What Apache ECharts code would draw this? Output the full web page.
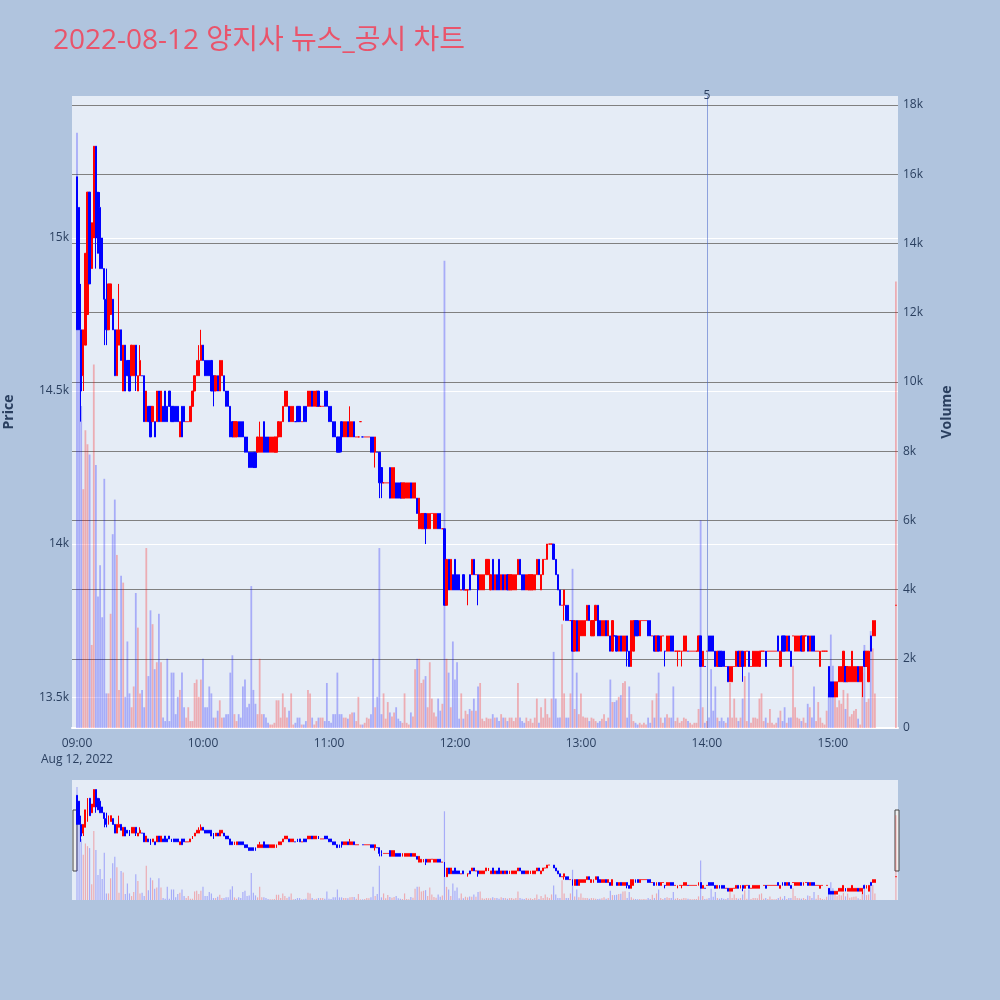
<!DOCTYPE html>
<html><head><meta charset="utf-8">
<script src="https://cdn.jsdelivr.net/npm/echarts@6/dist/echarts.min.js"></script>
<style>html,body{margin:0;padding:0;background:#B0C4DE}#c{width:1000px;height:1000px}</style>
</head><body><div id="c"></div>
<script>
const chartTitle = '2022-08-12 양지사 뉴스_공시 차트';
const dateLabel = 'Aug 12, 2022';
const timeTicks = [0, 60, 120, 180, 240, 300, 360];   // minutes after 09:00
const priceTicks = [13500, 14000, 14500, 15000];
const newsMinute = 300;   // 14:00
const newsLabel = '5';

// one entry per minute from 09:00 (index 0) to 15:30 (index 390)
const opens = [
15200,15100,14700,14550,14650,14750,15150,14900,15000,15300,
15150,15100,15000,14900,14800,14700,14750,14800,14700,14550,
14650,14700,14500,14650,14600,14600,14550,14550,14650,14500,
14550,14550,14550,14400,14450,14450,14400,14400,14400,14500,
14400,14450,14500,14450,14500,14450,14450,14450,14450,14350,
14450,14450,14400,14400,14400,14450,14500,14550,14550,14600,
14650,14600,14600,14600,14600,14550,14500,14550,14500,14550,
14550,14500,14500,14450,14400,14350,14350,14400,14400,14400,
14350,14350,14300,14300,14300,14300,14300,14300,14300,14400,
14350,14350,14300,14300,14300,14300,14350,14350,14400,14450,
14450,14450,14400,14400,14400,14450,14450,14400,14450,14450,
14450,14450,14500,14450,14450,14500,14450,14450,14500,14500,
14450,14450,14400,14400,14350,14350,14400,14350,14350,14400,
14350,14350,14400,14350,14350,14400,14350,14350,14350,14350,
14350,14350,14300,14300,14300,14250,14200,14200,14200,14250,
14150,14150,14200,14200,14200,14150,14150,14150,14150,14200,
14150,14150,14150,14050,14050,14050,14100,14050,14050,14100,
14050,14050,14100,14100,14050,14050,13800,13950,13850,13900,
13950,13900,13900,13850,13900,13850,13850,13900,13900,13950,
13900,13900,13850,13850,13850,13900,13900,13850,13950,13850,
13900,13950,13850,13900,13850,13900,13850,13850,13850,13850,
13900,13950,13900,13900,13850,13850,13850,13850,13850,13900,
13950,13850,13900,13950,13950,14000,14000,14000,13950,13900,
13850,13800,13800,13800,13800,13750,13750,13650,13750,13650,
13700,13700,13700,13750,13800,13700,13700,13750,13800,13750,
13700,13700,13750,13700,13700,13650,13700,13700,13650,13700,
13650,13650,13700,13650,13600,13650,13750,13750,13700,13750,
13750,13750,13750,13750,13700,13700,13650,13700,13650,13700,
13650,13650,13650,13700,13700,13650,13650,13650,13650,13650,
13650,13650,13650,13650,13650,13650,13650,13700,13600,13600,
13650,13700,13700,13700,13650,13600,13650,13650,13650,13600,
13600,13550,13550,13600,13600,13650,13600,13650,13600,13650,
13650,13600,13600,13600,13600,13600,13650,13650,13650,13650,
13650,13650,13650,13650,13700,13600,13700,13700,13650,13700,
13650,13700,13650,13650,13650,13700,13650,13700,13700,13650,
13700,13700,13650,13650,13600,13650,13650,13650,13600,13550,
13550,13500,13500,13550,13550,13550,13600,13550,13550,13550,
13550,13550,13600,13550,13550,13650,13600,13550,13700,13700,
13700,null,null,null,null,null,null,null,null,null,
13800];

const closes = [
14700,14700,14500,14700,14950,15150,14850,15050,15300,15000,
14950,14900,14900,14800,14700,14850,14850,14700,14550,14700,
14700,14600,14650,14500,14550,14500,14650,14650,14550,14550,
14600,14550,14400,14500,14400,14350,14450,14350,14500,14400,
14500,14400,14400,14400,14450,14400,14400,14400,14400,14400,
14350,14400,14400,14400,14450,14500,14550,14600,14600,14650,
14600,14550,14550,14550,14500,14500,14550,14500,14600,14600,
14500,14450,14450,14350,14350,14400,14400,14350,14350,14350,
14300,14300,14250,14250,14250,14250,14350,14350,14350,14300,
14300,14300,14350,14350,14350,14350,14400,14400,14450,14500,
14500,14400,14450,14450,14400,14400,14400,14400,14400,14400,
14500,14500,14450,14500,14500,14450,14450,14450,14450,14450,
14400,14400,14350,14350,14300,14300,14350,14400,14400,14350,
14400,14400,14350,14350,14350,14400,14350,14350,14350,14350,
14300,14300,14350,14300,14200,14200,14200,14200,14200,14150,
14250,14250,14150,14150,14150,14200,14200,14200,14200,14150,
14200,14200,14100,14150,14100,14100,14050,14100,14100,14100,
14100,14100,14050,14050,14050,13800,13950,13850,13950,13850,
13850,13850,13850,13850,13850,13850,13850,13850,13950,13900,
13900,13850,13900,13900,13900,13950,13950,13900,13850,13900,
13850,13850,13900,13850,13900,13850,13900,13900,13900,13900,
13950,13900,13850,13850,13900,13900,13900,13900,13900,13950,
13900,13900,13950,13950,14000,14000,14000,13950,13900,13850,
13800,13800,13850,13750,13750,13750,13650,13750,13650,13750,
13750,13750,13750,13800,13750,13750,13750,13800,13700,13700,
13750,13750,13700,13750,13650,13750,13700,13650,13700,13650,
13700,13700,13650,13600,13750,13750,13700,13700,13750,13750,
13750,13750,13700,13700,13700,13650,13700,13650,13700,13700,
13650,13700,13700,13650,13650,13650,13650,13650,13650,13700,
13700,13650,13650,13650,13650,13650,13700,13600,13650,13600,
13650,13650,13650,13650,13600,13650,13600,13600,13600,13600,
13550,13600,13600,13600,13650,13600,13650,13600,13650,13650,
13600,13600,13650,13650,13650,13650,13650,13650,13600,13650,
13650,13650,13650,13650,13650,13650,13650,13650,13700,13650,
13600,13700,13700,13700,13700,13650,13700,13700,13650,13700,
13650,13650,13650,13650,13650,13650,13650,13650,13500,13500,
13500,13550,13550,13600,13600,13650,13550,13600,13600,13650,
13600,13600,13550,13600,13600,13600,13650,13650,13650,13750,
13750,null,null,null,null,null,null,null,null,null,
13800];

const highs = [
15200,15100,14850,14700,14950,15150,15150,15050,15300,15300,
15150,15150,15000,14900,14900,14850,14850,14800,14700,14700,
14850,14700,14650,14650,14600,14600,14650,14650,14650,14550,
14650,14550,14550,14500,14450,14450,14450,14400,14500,14500,
14500,14450,14500,14450,14500,14450,14450,14450,14450,14400,
14450,14450,14400,14400,14450,14500,14550,14600,14650,14700,
14650,14600,14600,14600,14600,14550,14550,14550,14600,14600,
14550,14500,14500,14450,14400,14400,14400,14400,14400,14400,
14350,14350,14300,14300,14300,14300,14350,14400,14350,14400,
14350,14350,14350,14350,14350,14350,14400,14400,14450,14500,
14500,14450,14450,14450,14400,14450,14450,14400,14450,14450,
14500,14500,14500,14500,14500,14500,14450,14450,14500,14500,
14450,14450,14400,14400,14350,14350,14400,14400,14400,14400,
14450,14400,14400,14350,14350,14400,14350,14350,14350,14350,
14350,14350,14350,14300,14300,14250,14200,14200,14200,14250,
14250,14250,14200,14200,14200,14200,14200,14200,14200,14200,
14200,14200,14150,14150,14100,14100,14100,14100,14100,14100,
14100,14100,14100,14100,14050,14050,13950,13950,13950,13900,
13950,13900,13900,13850,13900,13850,13850,13900,13950,13950,
13900,13900,13900,13900,13900,13950,13950,13900,13950,13900,
13900,13950,13900,13900,13900,13900,13900,13900,13900,13900,
13950,13950,13900,13900,13900,13900,13900,13900,13900,13950,
13950,13900,13950,13950,14000,14000,14000,14000,13950,13900,
13850,13800,13850,13800,13800,13750,13750,13750,13750,13750,
13750,13750,13750,13800,13800,13750,13750,13800,13800,13750,
13750,13750,13750,13750,13700,13750,13700,13700,13700,13700,
13700,13700,13700,13650,13750,13750,13750,13750,13750,13750,
13750,13750,13750,13750,13700,13700,13700,13700,13700,13700,
13650,13700,13700,13700,13700,13650,13650,13650,13650,13700,
13700,13650,13650,13650,13650,13650,13700,13700,13650,13600,
13650,13700,13700,13700,13650,13650,13650,13650,13650,13600,
13600,13600,13600,13600,13650,13650,13650,13650,13650,13650,
13650,13600,13650,13650,13650,13650,13650,13650,13650,13650,
13650,13650,13650,13650,13700,13650,13700,13700,13700,13700,
13650,13700,13700,13700,13700,13700,13700,13700,13700,13700,
13700,13700,13650,13650,13650,13650,13650,13650,13600,13550,
13550,13550,13550,13600,13600,13650,13600,13600,13600,13650,
13600,13600,13600,13600,13600,13650,13650,13650,13700,13750,
13750,null,null,null,null,null,null,null,null,null,
13800];

const lows = [
14700,14700,14400,14500,14650,14750,14850,14900,15000,14900,
14950,14900,14900,14650,14650,14700,14750,14700,14550,14550,
14650,14600,14500,14500,14550,14500,14550,14550,14500,14500,
14550,14550,14400,14400,14400,14350,14400,14350,14400,14400,
14400,14400,14400,14400,14450,14400,14400,14400,14400,14350,
14350,14400,14400,14400,14400,14450,14500,14550,14550,14600,
14600,14550,14550,14550,14500,14450,14500,14500,14500,14550,
14500,14450,14450,14350,14350,14350,14350,14350,14350,14350,
14300,14300,14250,14250,14250,14250,14300,14300,14300,14300,
14300,14300,14300,14300,14300,14300,14350,14350,14400,14450,
14450,14400,14400,14400,14400,14400,14400,14400,14400,14400,
14450,14450,14450,14450,14450,14450,14450,14450,14450,14450,
14400,14400,14350,14350,14300,14300,14300,14350,14350,14350,
14350,14350,14350,14350,14350,14400,14350,14350,14350,14350,
14300,14300,14250,14300,14150,14150,14200,14200,14200,14150,
14150,14150,14150,14150,14150,14150,14150,14150,14150,14150,
14150,14150,14100,14050,14050,14050,14000,14050,14050,14100,
14050,14050,14050,14050,14050,13800,13800,13850,13850,13850,
13850,13850,13850,13850,13850,13850,13800,13850,13900,13900,
13900,13800,13850,13850,13850,13900,13900,13850,13850,13850,
13850,13850,13850,13850,13850,13850,13850,13850,13850,13850,
13900,13900,13850,13850,13850,13850,13850,13850,13850,13900,
13900,13850,13900,13950,13950,14000,14000,13950,13900,13850,
13800,13800,13750,13750,13750,13750,13650,13650,13650,13650,
13700,13700,13700,13750,13750,13700,13700,13750,13700,13700,
13700,13700,13700,13700,13650,13650,13700,13650,13650,13650,
13650,13650,13600,13600,13600,13650,13700,13700,13700,13750,
13750,13750,13700,13700,13700,13650,13650,13650,13650,13700,
13600,13650,13650,13650,13650,13650,13600,13650,13600,13650,
13650,13650,13650,13650,13650,13650,13650,13600,13600,13600,
13650,13650,13650,13650,13600,13600,13600,13600,13600,13600,
13550,13550,13550,13600,13600,13600,13600,13550,13600,13650,
13600,13600,13600,13600,13600,13600,13650,13650,13600,13650,
13650,13650,13650,13650,13650,13600,13650,13650,13650,13650,
13600,13700,13650,13650,13650,13650,13650,13700,13650,13650,
13650,13650,13650,13650,13600,13650,13650,13650,13500,13500,
13500,13500,13500,13550,13550,13550,13550,13550,13550,13550,
13550,13550,13550,13550,13500,13600,13600,13550,13650,13700,
13700,null,null,null,null,null,null,null,null,null,
13800];

const volumes = [
17200,14200,9300,6900,8600,8200,7900,2400,10500,7600,
3800,4700,3200,7200,1000,1000,3300,5600,6600,5000,
1100,4400,4200,900,2500,1000,600,1200,3900,2900,
1000,1100,600,5200,1500,3400,3000,1700,1900,3300,
1900,300,200,2000,200,1600,1600,400,900,1100,
1600,600,300,600,200,200,1300,1400,900,1400,
2000,600,600,1200,1000,300,300,500,800,300,
300,400,400,1600,2100,400,200,400,300,1200,
1400,600,700,4100,1100,700,400,2000,400,400,
300,150,100,100,150,800,800,300,1000,600,
300,500,1000,100,150,300,300,100,100,200,
1100,1000,300,100,200,300,300,300,200,1300,
200,150,400,400,1600,400,400,300,300,270,
400,450,450,200,900,100,100,150,300,270,
400,2000,600,900,5200,400,1000,270,750,450,
330,450,600,270,200,150,1000,150,100,450,
330,1700,2000,2000,1300,1400,1500,600,1900,850,
450,330,850,500,700,13500,2000,1600,600,2500,
1400,1900,270,1000,270,500,400,550,500,850,
500,1200,1300,270,200,300,270,270,400,300,
300,200,400,300,300,200,300,300,200,300,
1300,300,200,150,300,200,270,150,300,850,
150,600,300,850,400,300,850,2200,850,300,
300,3000,1000,300,300,1000,4600,550,1600,400,
1000,330,300,300,200,300,270,200,150,200,
270,400,200,300,1400,750,750,800,900,950,
1300,1350,300,1200,400,200,150,100,150,100,
150,100,300,150,800,300,1000,1600,300,150,
300,400,300,300,1200,200,300,150,200,300,
270,200,150,100,150,150,550,6000,600,150,
200,300,1700,500,1200,300,200,300,200,150,
300,1300,300,850,300,200,300,850,1500,200,
1600,150,300,300,270,850,1000,200,300,150,
550,150,100,150,300,500,200,600,150,300,
300,1800,600,300,270,200,300,150,700,600,
300,1200,200,750,300,150,100,500,1000,2700,
1800,1300,600,800,700,1100,550,1000,330,400,
500,550,270,100,1600,2400,750,850,2800,2300,
1000,null,null,null,null,null,null,null,null,null,
12900];

const UP = '#FF0000', DOWN = '#0000FF';
const UP_VOL = 'rgba(255,0,0,0.27)', DOWN_VOL = 'rgba(0,0,255,0.27)';

// direction rule: close above open, or unchanged and not below the previous close
const candleData = [], volData = [];
let prevClose = null;
for (let i = 0; i < opens.length; i++) {
  if (opens[i] == null) continue;
  const up = closes[i] > opens[i] || (closes[i] === opens[i] && (prevClose === null || prevClose <= closes[i]));
  const c = up ? UP : DOWN;
  candleData.push({
    value: [i, opens[i], closes[i], lows[i], highs[i]],
    itemStyle: { color: c, color0: c, borderColor: c, borderColor0: c, borderColorDoji: c }
  });
  volData.push({ value: [i, volumes[i]], itemStyle: { color: up ? UP_VOL : DOWN_VOL } });
  prevClose = closes[i];
}

const FONT = '"Open Sans", "Noto Sans CJK KR", sans-serif';
const TXT = '#2a3f5f';
const pad2 = n => (n < 10 ? '0' : '') + n;
const fmtTime = m => pad2(9 + Math.floor(m / 60)) + ':' + pad2(m % 60);
const X_MIN = -2.38, X_MAX = 391;
const P_MIN = 13399, P_MAX = 15464, V_MAX = 18260;

const chart = echarts.init(document.getElementById('c'));
chart.setOption({
  animation: false,
  backgroundColor: '#B0C4DE',
  title: {
    text: chartTitle, left: 48, top: 22,
    textStyle: { color: '#E9546B', fontSize: 28, fontWeight: 'normal', fontFamily: FONT }
  },
  grid: [
    { left: 72, width: 826, top: 96, height: 632, show: true, backgroundColor: '#E5ECF6', borderWidth: 0, containLabel: false, outerBoundsMode: 'none' },
    { left: 72, width: 826, top: 780, height: 120, show: true, backgroundColor: '#E5ECF6', borderWidth: 0, containLabel: false, outerBoundsMode: 'none' }
  ],
  xAxis: [
    {
      type: 'value', gridIndex: 0, min: X_MIN, max: X_MAX,
      axisLine: { show: true, onZero: false, lineStyle: { color: '#ffffff', width: 2 } },
      axisTick: { show: false }, splitLine: { show: false },
      axisLabel: {
        customValues: timeTicks, color: TXT, fontSize: 12, fontFamily: FONT, margin: 8, lineHeight: 16,
        formatter: v => (v === 0 ? fmtTime(v) + '\n' + dateLabel : fmtTime(v))
      }
    },
    { type: 'value', gridIndex: 1, min: X_MIN, max: X_MAX, show: false }
  ],
  yAxis: [
    {
      type: 'value', gridIndex: 0, min: P_MIN, max: P_MAX, position: 'left',
      name: 'Price', nameLocation: 'middle', nameRotate: 90, nameGap: 56,
      nameTextStyle: { color: TXT, fontSize: 14, fontWeight: 'bold', fontFamily: FONT },
      axisLine: { show: false }, axisTick: { show: false }, splitLine: { show: false },
      axisLabel: { customValues: priceTicks, color: TXT, fontSize: 12, fontFamily: FONT, margin: 3, formatter: v => (v / 1000) + 'k' }
    },
    {
      type: 'value', gridIndex: 0, min: 0, max: V_MAX, interval: 2000, position: 'right',
      name: 'Volume', nameLocation: 'middle', nameRotate: 90, nameGap: 42,
      nameTextStyle: { color: TXT, fontSize: 14, fontWeight: 'bold', fontFamily: FONT },
      axisLine: { show: false }, axisTick: { show: false },
      splitLine: { show: true, showMinLine: false, showMaxLine: false, lineStyle: { color: '#808080', width: 1 } },
      axisLabel: { showMaxLabel: false, color: TXT, fontSize: 12, fontFamily: FONT, margin: 5,
        formatter: v => (v === 0 ? '0' : (v / 1000) + 'k') }
    },
    { type: 'value', gridIndex: 1, min: 0, max: V_MAX, show: false },
    { type: 'value', gridIndex: 1, min: P_MIN, max: P_MAX, show: false }
  ],
  series: [
    {
      name: 'priceGrid', type: 'line', xAxisIndex: 0, yAxisIndex: 0, data: [], z: 1, silent: true,
      markLine: {
        silent: true, symbol: ['none', 'none'], z: 1, label: { show: false },
        lineStyle: { color: '#ffffff', width: 1, type: 'solid' },
        data: priceTicks.map(v => ({ yAxis: v }))
      }
    },
    {
      name: 'Volume', type: 'bar', xAxisIndex: 0, yAxisIndex: 1, data: volData,
      barWidth: 1.8, z: 2, silent: true
    },
    {
      name: 'Price', type: 'candlestick', xAxisIndex: 0, yAxisIndex: 0, data: candleData,
      encode: { x: 0, y: [1, 2, 3, 4] }, barWidth: 1.8, z: 3, silent: true,
      itemStyle: { borderWidth: 1 },
      markLine: {
        silent: true, symbol: ['none', 'none'],
        lineStyle: { color: 'rgba(70,100,200,0.55)', width: 1, type: 'solid' },
        label: { show: true, position: 'end', formatter: newsLabel, color: TXT, fontSize: 12, fontFamily: FONT, distance: -6 },
        data: [{ xAxis: newsMinute }]
      }
    },
    {
      name: 'VolumeMini', type: 'bar', xAxisIndex: 1, yAxisIndex: 2, data: volData,
      barWidth: 1.2, z: 2, silent: true
    },
    {
      name: 'PriceMini', type: 'candlestick', xAxisIndex: 1, yAxisIndex: 3, data: candleData,
      encode: { x: 0, y: [1, 2, 3, 4] }, barWidth: 1.4, z: 3, silent: true,
      itemStyle: { borderWidth: 1 }
    }
  ],
  graphic: [
    { type: 'rect', shape: { x: 73, y: 810, width: 4, height: 61 }, style: { fill: '#eeeeee', stroke: '#444444', lineWidth: 1 } },
    { type: 'rect', shape: { x: 895, y: 810, width: 4, height: 61 }, style: { fill: '#eeeeee', stroke: '#444444', lineWidth: 1 } }
  ]
});
</script>
</body></html>
